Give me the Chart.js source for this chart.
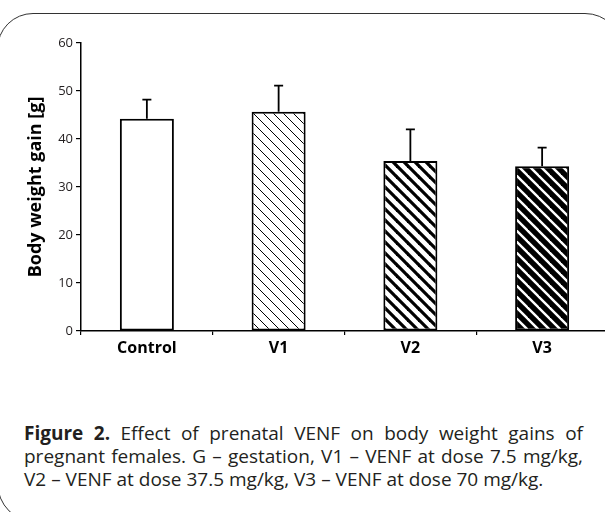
<!DOCTYPE html>
<html>
<head>
<meta charset="utf-8">
<script src="https://cdn.jsdelivr.net/npm/chart.js@4.4.0/dist/chart.umd.min.js"></script>
<style>
  html, body { margin: 0; padding: 0; background: #fff; overflow: hidden; }
  body { width: 605px; height: 512px; position: relative; font-family: "Open Sans", sans-serif; }
  #frame {
    position: absolute; left: -3px; top: 13px; width: 624px; height: 508px;
    border: 1.5px solid #333;
    border-radius: 36px 38px 40px 40px;
  }
  #chartBox { position: absolute; left: 0; top: 0; width: 612px; height: 380px; }
  #caption {
    position: absolute; left: 24px; top: 422px; width: 559px;
    font-size: 19px; line-height: 23px; color: #231f20;
  }
  #caption div { text-align: justify; text-align-last: justify; white-space: nowrap; }
  #caption div.last { text-align-last: left; }
</style>
</head>
<body>
<div id="frame"></div>
<div id="chartBox"><canvas id="chart" width="612" height="380"></canvas></div>
<div id="caption">
  <div><b>Figure 2.</b> Effect of prenatal VENF on body weight gains of</div>
  <div>pregnant females. G – gestation, V1 – VENF at dose 7.5 mg/kg,</div>
  <div class="last">V2 – VENF at dose 37.5 mg/kg, V3 – VENF at dose 70 mg/kg.</div>
</div>
<script>
const categories = ['Control', 'V1', 'V2', 'V3'];
const weightGain = [44.2, 45.7, 35.4, 34.3];
const errorPlus = [4.0, 5.4, 6.6, 3.9];

// diagonal stripe fill, like the old excel patterns
function stripes(bg, fg, period, width) {
  const c = document.createElement('canvas');
  c.width = period;
  c.height = period;
  const g = c.getContext('2d');
  g.fillStyle = bg;
  g.fillRect(0, 0, period, period);
  g.strokeStyle = fg;
  g.lineWidth = width;
  for (let x = -period; x <= period; x += period) {
    g.beginPath();
    g.moveTo(x - 1, -1);
    g.lineTo(x + period + 1, period + 1);
    g.stroke();
  }
  return g.createPattern(c, 'repeat');
}

const fills = [
  '#ffffff',
  stripes('#ffffff', '#000000', 10, 1),
  stripes('#ffffff', '#000000', 11, 3.2),
  stripes('#000000', '#ffffff', 11, 2.4)
];

const errorBars = {
  id: 'errorBars',
  afterDatasetsDraw(chart) {
    const ctx = chart.ctx;
    const y = chart.scales.y;
    const meta = chart.getDatasetMeta(0);
    ctx.save();
    ctx.strokeStyle = '#000';
    ctx.lineWidth = 1.8;
    meta.data.forEach((bar, i) => {
      const top = y.getPixelForValue(weightGain[i]);
      const up = y.getPixelForValue(weightGain[i] + errorPlus[i]);
      ctx.beginPath();
      ctx.moveTo(bar.x, top);
      ctx.lineTo(bar.x, up);
      ctx.moveTo(bar.x - 4.5, up);
      ctx.lineTo(bar.x + 4.5, up);
      ctx.stroke();
    });
    ctx.restore();
  }
};

new Chart(document.getElementById('chart'), {
  type: 'bar',
  data: {
    labels: categories,
    datasets: [{
      data: weightGain,
      backgroundColor: fills,
      borderColor: '#000',
      borderWidth: 2,
      borderSkipped: false,
      categoryPercentage: 1,
      barPercentage: 0.41
    }]
  },
  options: {
    responsive: false,
    animation: false,
    devicePixelRatio: 1,
    layout: { padding: { top: 43, right: 4, left: 0, bottom: 0 } },
    plugins: { legend: { display: false }, tooltip: { enabled: false } },
    scales: {
      x: {
        grid: { display: true, offset: true, drawOnChartArea: false, drawTicks: true, tickLength: 4, color: '#000', lineWidth: 1.2 },
        border: { display: true, color: '#000', width: 1.5 },
        ticks: { color: '#000', padding: 4, font: { family: 'Open Sans', size: 16, weight: 'bold' } },
        afterFit(scale) { scale.height = 49; }
      },
      y: {
        min: 0,
        max: 60,
        ticks: { stepSize: 10, color: '#231f20', padding: 3, font: { family: 'Open Sans', size: 13 } },
        grid: { display: true, drawOnChartArea: false, drawTicks: true, tickLength: 5, color: '#000', lineWidth: 1.2 },
        border: { display: true, color: '#000', width: 1.5 },
        title: {
          display: true,
          text: 'Body weight gain [g]',
          color: '#000',
          padding: { top: 25, bottom: 0 },
          font: { family: 'Open Sans', size: 18, weight: 'bold' }
        },
        afterFit(scale) { scale.width = 81; }
      }
    }
  },
  plugins: [errorBars]
});
</script>
</body>
</html>
